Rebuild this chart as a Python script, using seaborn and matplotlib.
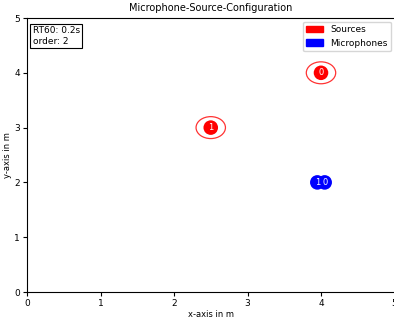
import matplotlib
matplotlib.use("Agg")
import matplotlib.pyplot as plt
import matplotlib.patches as mpatches
import seaborn as sns
import pandas as pd

source_x = [4.0, 2.5]
source_y = [4.0, 3.0]
source_ids = ["0", "1"]
mic_x = [4.05, 3.95]
mic_y = [2.0, 2.0]
mic_ids = ["0", "1"]
rt60_text = "RT60: 0.2s\norder: 2"

sns.set_style("ticks")
plt.rcParams["font.family"] = ["DejaVu Sans"]
plt.rcParams["text.color"] = "black"
plt.rcParams["xtick.color"] = "black"
plt.rcParams["ytick.color"] = "black"
plt.rcParams["axes.labelcolor"] = "black"
plt.rcParams["axes.edgecolor"] = "black"

fig = plt.figure(figsize=(3.94, 3.2), dpi=100)
ax = fig.add_axes([27/394, 28/320, 367.5/394, 274/320])

src = pd.DataFrame({"x": source_x, "y": source_y, "id": source_ids})
mic = pd.DataFrame({"x": mic_x, "y": mic_y, "id": mic_ids})

for _, r in src.iterrows():
    ax.add_patch(mpatches.Circle((r.x, r.y), 0.2, fill=False, edgecolor="red", lw=0.9, alpha=0.8))
sns.scatterplot(data=src, x="x", y="y", color="red", s=110, edgecolor="none", ax=ax, legend=False, zorder=3)
sns.scatterplot(data=mic, x="x", y="y", color="blue", s=110, edgecolor="none", ax=ax, legend=False, zorder=3)
for _, r in src.iterrows():
    ax.text(r.x, r.y, r.id, color="white", ha="center", va="center", fontsize=6, zorder=4)
for _, r in mic.iterrows():
    ax.text(r.x, r.y, r.id, color="white", ha="center", va="center", fontsize=6, zorder=4)

ax.set_xlim(0, 5)
ax.set_ylim(0, 5)
ax.set_xlabel("x-axis in m", fontsize=6, labelpad=1.5)
ax.set_ylabel("y-axis in m", fontsize=6, labelpad=2)
ax.set_title("Microphone-Source-Configuration", fontsize=7, pad=5)
ax.tick_params(labelsize=6.5, length=3, pad=2, width=0.8)
ax.spines["right"].set_visible(False)

handles = [mpatches.Patch(color="red", label="Sources"), mpatches.Patch(color="blue", label="Microphones")]
ax.legend(handles=handles, loc="upper right", fontsize=6.5, frameon=True, handlelength=1.8, borderaxespad=0.4)
ax.text(0.015, 0.97, rt60_text, transform=ax.transAxes, ha="left", va="top", fontsize=6.5,
        bbox=dict(boxstyle="square,pad=0.3", facecolor="white", edgecolor="black", lw=0.8))

fig.savefig("out.png", dpi=100)
